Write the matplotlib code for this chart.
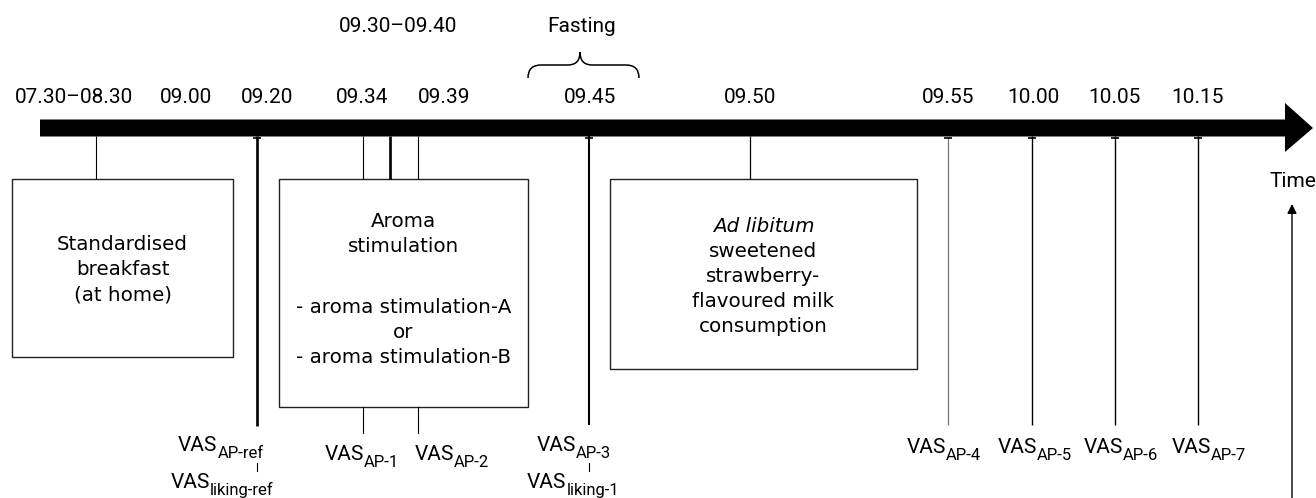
import matplotlib
matplotlib.use("Agg")
import matplotlib.pyplot as plt
from matplotlib.patches import Polygon, Rectangle, PathPatch
from matplotlib.path import Path

# time points along the axis
time_labels = ["07.30–08.30", "09.00", "09.20", "09.34", "09.39", "09.45",
               "09.50", "09.55", "10.00", "10.05", "10.15"]
time_label_x = [74, 186, 267, 362, 444, 590, 750, 948, 1033, 1115, 1198]

# event connectors hanging from the time axis
event_x = [96, 257, 363, 390, 418, 589, 750, 948, 1032, 1115, 1198]
event_end = [179, 426, 179, 179, 179, 425, 179, 425, 425, 425, 425]
event_lw = [0.8, 1.9, 0.8, 1.9, 0.8, 1.5, 0.9, 0.9, 1.0, 1.0, 1.0]
event_col = ["k", "k", "k", "k", "k", "k", "k", "#777777", "k", "k", "k"]
capped = [257, 589, 948, 1032, 1115, 1198]

# boxes: (left, top, right, bottom), lines, baseline of first line
boxes = [
    ((12, 179, 233, 357), ["Standardised", "breakfast", "(at home)"], 250),
    ((279, 179, 528, 407), ["Aroma", "stimulation", "", "- aroma stimulation-A", "or",
                            "- aroma stimulation-B"], 227),
    ((610, 179, 917, 369), ["Ad libitum", "sweetened", "strawberry-", "flavoured milk",
                            "consumption"], 232),
]

# VAS measurement labels
vas_subs = ["AP-ref", "liking-ref", "AP-1", "AP-2", "AP-3", "liking-1",
            "AP-4", "AP-5", "AP-6", "AP-7"]
vas_x = [221, 222, 362, 452, 574, 573, 944, 1035, 1121, 1209]
vas_y = [451, 488, 460, 460, 451, 488, 453, 453, 453, 453]

LAB = "Roboto"
BOX = "DejaVu Sans"

fig = plt.figure(figsize=(13.16, 4.98), dpi=100)
ax = fig.add_axes([0, 0, 1, 1])
ax.set_xlim(0, 1316)
ax.set_ylim(498, 0)
ax.axis("off")

# main time arrow
ax.add_patch(Polygon([(40, 119.5), (1285, 119.5), (1285, 103), (1313, 128),
                      (1285, 152), (1285, 136.5), (40, 136.5)],
                     closed=True, fc="k", ec="none"))

for lab, x in zip(time_labels, time_label_x):
    ax.text(x, 103, lab, family=LAB, fontsize=15, ha="center", va="baseline")

ax.text(398, 32, "09.30–09.40", family=LAB, fontsize=15, ha="center", va="baseline")
ax.text(582, 32, "Fasting", family=LAB, fontsize=15, ha="center", va="baseline")

# curly brace over 09.45
verts = [(528, 78), (528, 65), (541, 65), (568, 65), (580, 65), (580, 52),
         (580, 65), (592, 65), (626, 65), (639, 65), (639, 78)]
codes = [Path.MOVETO, Path.CURVE3, Path.CURVE3, Path.LINETO, Path.CURVE3, Path.CURVE3,
         Path.CURVE3, Path.CURVE3, Path.LINETO, Path.CURVE3, Path.CURVE3]
ax.add_patch(PathPatch(Path(verts, codes), fc="none", ec="k", lw=1.1))

# connectors
for x, y1, lw, c in zip(event_x, event_end, event_lw, event_col):
    ax.plot([x, x], [136, y1], color=c, lw=lw, solid_capstyle="butt")
for x in capped:
    ax.plot([x - 4, x + 4], [137.5, 137.5], color="k", lw=1.2, solid_capstyle="butt")

# connectors below the aroma box
for x in [363, 418]:
    ax.plot([x, x], [407, 433], color="k", lw=0.8)

# boxes with text
for (x0, y0, x1, y1), lines, base in boxes:
    ax.add_patch(Rectangle((x0, y0), x1 - x0, y1 - y0, fc="white", ec="#222222", lw=1.0))
    cx = (x0 + x1) / 2
    y = base
    for line in lines:
        if line == "":
            y += 36
            continue
        style = "italic" if line == "Ad libitum" else "normal"
        ax.text(cx, y, line, family=BOX, fontsize=14.3, style=style,
                ha="center", va="baseline")
        y += 25

# VAS labels with subscripts
renderer = fig.canvas.get_renderer()
for sub, cx, y in zip(vas_subs, vas_x, vas_y):
    t1 = ax.text(0, y, "VAS", family=LAB, fontsize=15, va="baseline", ha="left")
    t2 = ax.text(0, y + 7, sub, family=LAB, fontsize=12, va="baseline", ha="left")
    w1 = t1.get_window_extent(renderer).width
    w2 = t2.get_window_extent(renderer).width
    left = cx - (w1 + w2) / 2
    t1.set_x(left)
    t2.set_x(left + w1)

# small ticks joining paired VAS labels
for x in [257, 589]:
    ax.plot([x, x], [463, 471], color="k", lw=0.8)

# time direction arrow on the right
ax.text(1293, 187, "Time", family=LAB, fontsize=15, ha="center", va="baseline")
ax.annotate("", xy=(1292, 204), xytext=(1292, 498),
            arrowprops=dict(arrowstyle="-|>", lw=1.0, color="k", mutation_scale=14,
                            shrinkA=0, shrinkB=0))

fig.savefig("out.png", dpi=100)
